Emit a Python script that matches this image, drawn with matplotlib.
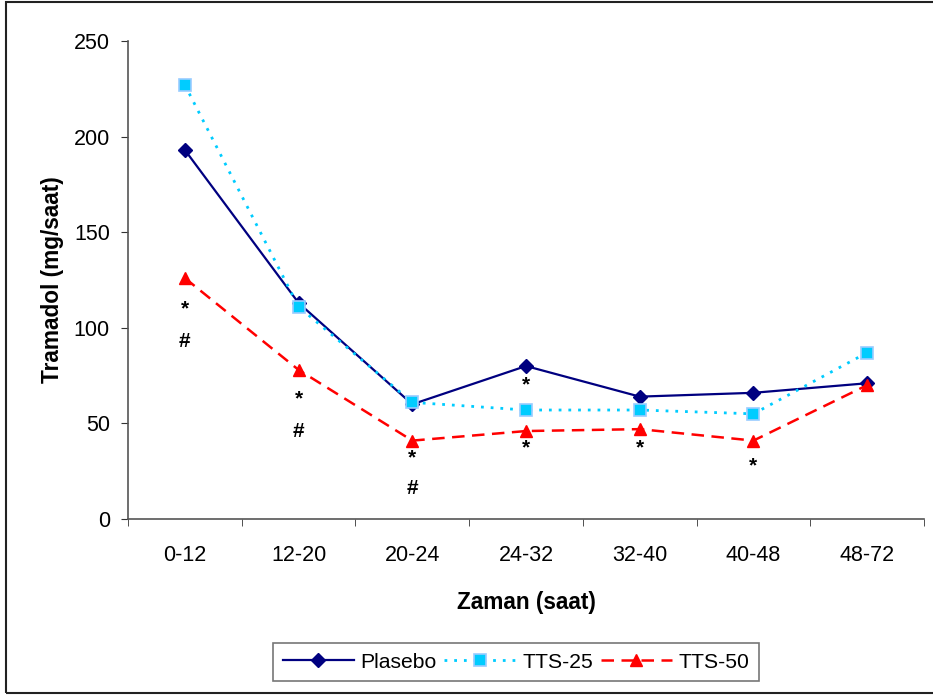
import matplotlib
matplotlib.use("Agg")
import matplotlib.pyplot as plt
from matplotlib.patches import Rectangle
import numpy as np

plt.rcParams['font.family'] = ['Liberation Sans', 'DejaVu Sans']

categories = ["0-12", "12-20", "20-24", "24-32", "32-40", "40-48", "48-72"]
plasebo = [193, 113, 60, 80, 64, 66, 71]
tts25 = [227, 111, 61, 57, 57, 55, 87]
tts50 = [126, 78, 41, 46, 47, 41, 70]

# significance marks: (category index, y value, symbol)
mark_cat = [0, 0, 1, 1, 2, 2, 3, 3, 4, 5]
mark_y = [110, 93, 63, 46, 32, 16, 70, 37, 37, 28]
mark_sym = ["*", "#", "*", "#", "*", "#", "*", "*", "*", "*"]

fig = plt.figure(figsize=(9.33, 6.95), dpi=100)
ax = fig.add_axes([128/933, 1-519/695, (924-128)/933, (519-41)/695])

x = np.arange(len(categories))
ax.plot(x, plasebo, color='#000080', lw=1.6, marker='D', ms=7,
        mfc='#000080', mec='#000080', label='Plasebo', zorder=3)
ax.plot(x, tts25, color='#00CCFF', lw=2, ls=(0, (1, 2.5)), marker='s', ms=9,
        mfc='#00CCFF', mec='#99CCFF', mew=1.2, label='TTS-25', zorder=3)
ax.plot(x, tts50, color='#FF0000', lw=1.8, ls=(0, (5, 3)), marker='^', ms=9,
        mfc='#FF0000', mec='#FF0000', label='TTS-50', zorder=3)

for c, yv, s in zip(mark_cat, mark_y, mark_sym):
    ax.text(c, yv, s, ha='center', va='center', fontsize=15, fontweight='bold',
            color='black')

ax.set_xlim(-0.5, len(categories) - 0.5)
ax.set_ylim(0, 250)
ax.set_yticks(np.arange(0, 251, 50))
ax.set_xticks(x)
ax.set_xticklabels(categories)
ax.set_xticks(np.arange(-0.5, len(categories), 1), minor=True)
ax.tick_params(axis='x', which='major', length=0, pad=19, labelsize=15.5)
ax.tick_params(axis='x', which='minor', length=5, direction='out', color='#333333')
ax.tick_params(axis='y', length=5, direction='out', labelsize=15.5, pad=8, color='#333333')
for s in ['top', 'right']:
    ax.spines[s].set_visible(False)
for s in ['left', 'bottom']:
    ax.spines[s].set_color('#555555')
    ax.spines[s].set_linewidth(1.2)

ax.set_xlabel('Zaman (saat)', fontsize=16.3, fontweight='bold', labelpad=18)
ax.set_ylabel('Tramadol (mg/saat)', fontsize=16.3, fontweight='bold', labelpad=7)

leg = fig.legend(loc='center', bbox_to_anchor=(516/933, 1-662/695), ncol=3,
                 fontsize=15.2, frameon=True, fancybox=False, handlelength=3.4,
                 columnspacing=0.35, handletextpad=0.3, borderpad=0.45)
leg.get_frame().set_edgecolor('#555555')
leg.get_frame().set_linewidth(1.2)

fig.patches.append(Rectangle((6/933, 2/695), 1.0, 1 - 4/695, transform=fig.transFigure,
                             fill=False, edgecolor='#222222', lw=1.5))

fig.savefig('out.png', dpi=100)
